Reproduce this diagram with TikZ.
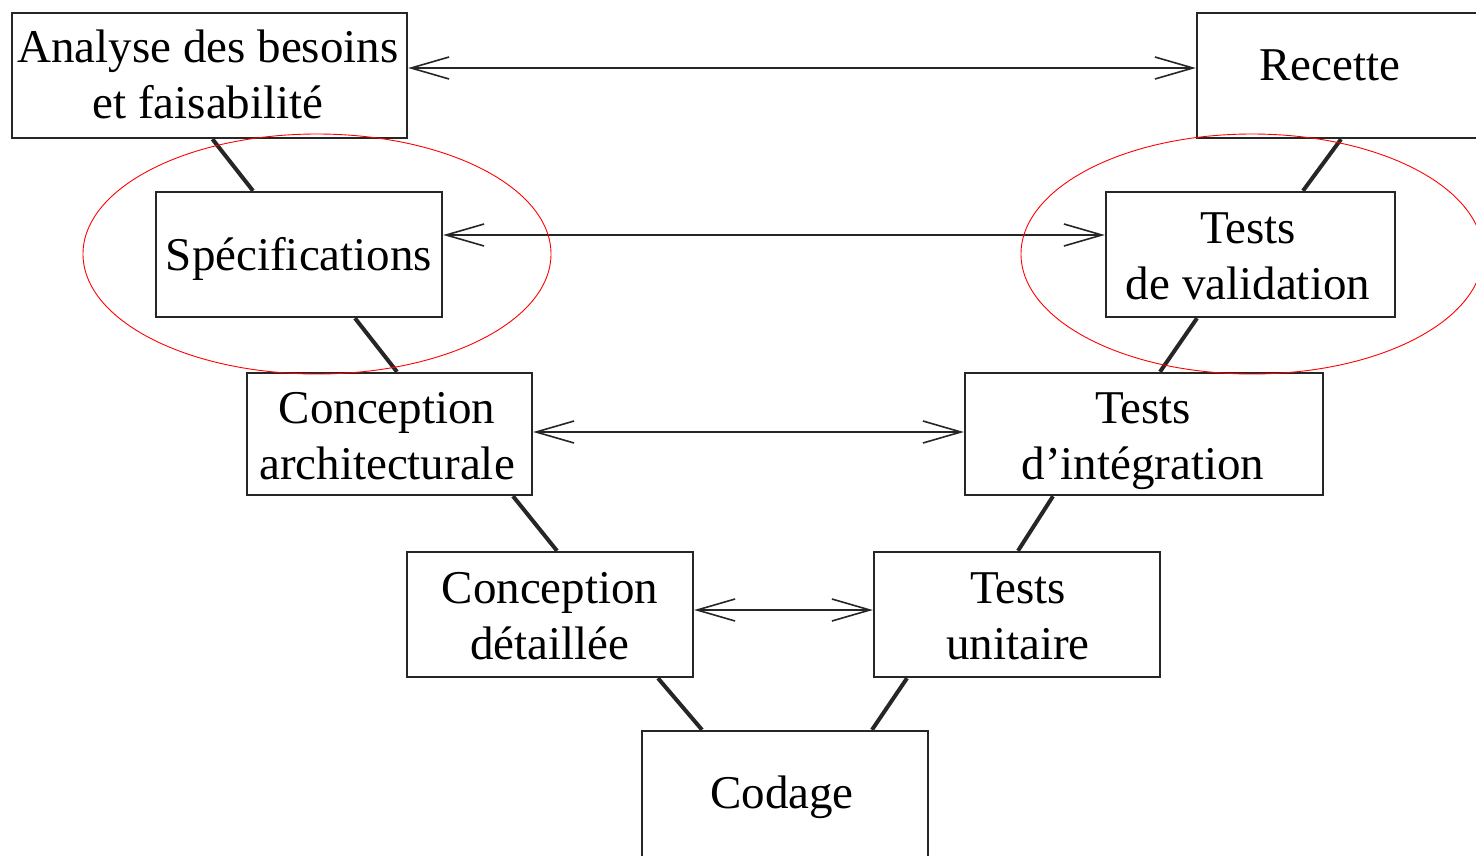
\documentclass[tikz,border=0pt]{standalone}
\usepackage{fontspec}
\setmainfont{Liberation Serif}
\usetikzlibrary{arrows.meta,calc}

\begin{document}
\begin{tikzpicture}[x=1pt,y=-1pt,
  box/.style={draw=black!85,line width=2.4pt,rectangle,inner sep=0pt},
  lbl/.style={anchor=base,inner sep=0pt,font=\fontsize{47}{56}\selectfont},
  link/.style={line width=4pt,black!85},
  flow/.style={line width=2pt,black!85,
    {Straight Barb[length=38pt,width=22pt,line width=1.6pt]}-{Straight Barb[length=38pt,width=22pt,line width=1.6pt]}},
  zone/.style={draw=red,line width=0.9pt}]

\useasboundingbox (0,0) rectangle (1476,855);

% left branch: phases of definition
\node[box,minimum width=395pt,minimum height=125pt] (ana)  at (209.5,75.5) {};
\node[box,minimum width=286pt,minimum height=125pt] (spec) at (299,254.5) {};
\node[box,minimum width=285pt,minimum height=122pt] (conA) at (389.5,434) {};
\node[box,minimum width=286pt,minimum height=125pt] (conD) at (550,614.5) {};
% bottom of the V
\node[box,minimum width=286pt,minimum height=140pt] (cod)  at (785,801) {};
% right branch: phases of testing
\node[box,minimum width=286pt,minimum height=125pt] (tu)   at (1017,614.5) {};
\node[box,minimum width=358pt,minimum height=122pt] (ti)   at (1144,434) {};
\node[box,minimum width=289pt,minimum height=125pt] (tv)   at (1250.5,254.5) {};
\node[box,minimum width=293pt,minimum height=125pt] (rec)  at (1343.5,75.5) {};

% texts
\node[lbl] (anaT) at (208,62) {\begin{tabular}[t]{@{}c@{}}Analyse des besoins\\et faisabilité\end{tabular}};
\node[lbl] (specT) at (299,270) {Spécifications};
\node[lbl] (conAT) at (387,423) {\begin{tabular}[t]{@{}c@{}}Conception\\architecturale\end{tabular}};
\node[lbl] (conDT) at (550,603) {\begin{tabular}[t]{@{}c@{}}Conception\\détaillée\end{tabular}};
\node[lbl] (codT) at (782,808) {Codage};
\node[lbl] (tuT) at (1018,603) {\begin{tabular}[t]{@{}c@{}}Tests\\unitaire\end{tabular}};
\node[lbl] (tiT) at (1143,423) {\begin{tabular}[t]{@{}c@{}}Tests\\d’intégration\end{tabular}};
\node[lbl] (tvT) at (1248,243) {\begin{tabular}[t]{@{}c@{}}Tests\\de validation\end{tabular}};
\node[lbl] (recT) at (1330,80) {Recette};

% links along the V
\draw[link] ($(ana.south)+(3,0)$)   -- ($(spec.north)+(-46,0)$);
\draw[link] ($(spec.south)+(56,0)$) -- ($(conA.north)+(7.5,0)$);
\draw[link] ($(conA.south)+(123.5,0)$) -- ($(conD.north)+(7,0)$);
\draw[link] ($(conD.south)+(108,0)$) -- ($(cod.north)+(-83,0)$);
\draw[link] ($(cod.north)+(87,0)$)  -- ($(tu.south)+(-110,0)$);
\draw[link] ($(tu.north)+(1,0)$)    -- ($(ti.south)+(-91,0)$);
\draw[link] ($(ti.north)+(16,0)$)   -- ($(tv.south)+(-53.5,0)$);
\draw[link] ($(tv.north)+(52.5,0)$) -- ($(rec.south)+(-2.5,0)$);

% correspondences between levels
\draw[flow] ([yshift=7.5pt]ana.east)  -- ([yshift=7.5pt]rec.west);
\draw[flow] ([yshift=19.5pt]spec.east) -- ([yshift=19.5pt]tv.west);
\draw[flow] ([yshift=2pt]conA.east)   -- ([yshift=2pt]ti.west);
\draw[flow] ([yshift=4.5pt]conD.east) -- ([yshift=4.5pt]tu.west);

% highlighted level
\draw[zone] (317,254) ellipse [x radius=234pt,y radius=120pt];
\draw[zone] (1252,254) ellipse [x radius=231pt,y radius=120pt];
\end{tikzpicture}
\end{document}
